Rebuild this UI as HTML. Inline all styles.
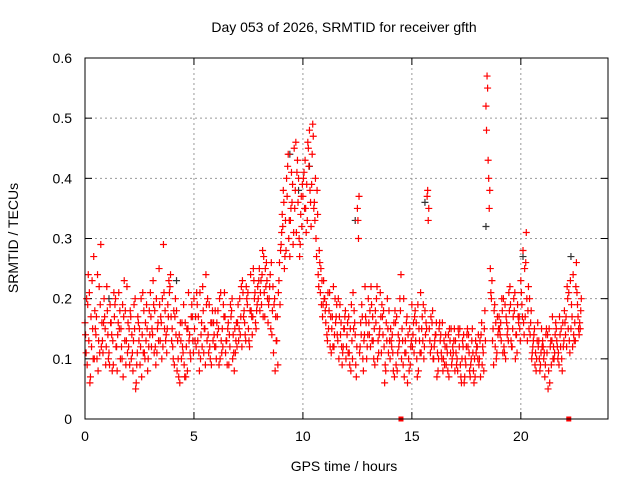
<!DOCTYPE html>
<html><head><meta charset="utf-8"><style>
body{margin:0;background:#fff}
svg{display:block;font-family:"Liberation Sans",sans-serif}
</style></head><body>
<svg id="chart" width="640" height="480" viewBox="0 0 640 480">
<rect width="640" height="480" fill="#fff"/>
<text x="344" y="32" font-size="14" text-anchor="middle">Day 053 of 2026, SRMTID for receiver gfth</text>
<text x="344" y="471" font-size="14" text-anchor="middle">GPS time / hours</text>
<text x="18" y="238" font-size="14" text-anchor="middle" transform="rotate(-90 18 238)">SRMTID / TECUs</text>
<g id="grid"></g>
<g id="ticks"></g>
<g id="marks"></g>
<rect x="85" y="58" width="523" height="361" fill="none" stroke="#000" stroke-width="1"/>
</svg>
<script>
const xTicks=[0,5,10,15,20];
const yTicks=[0,0.1,0.2,0.3,0.4,0.5,0.6];
const yTickLabels=["0","0.1","0.2","0.3","0.4","0.5","0.6"];
const seriesStarts=[0,0.05,0.025,0.075];
const step=0.1;
const seriesA=[.16,.09,.21,.12,.27,.14,.08,.19,.13,.17,
.22,.11,.16,.09,.20,.14,.18,.10,.23,.13,
.12,.17,.08,.20,.11,.15,.07,.18,.13,.10,
.21,.14,.18,.11,.25,.16,.29,.13,.19,.22,
.15,.09,.18,.07,.13,.11,.16,.08,.14,.19,
.20,.12,.17,.10,.22,.15,.13,.19,.09,.16,
.12,.18,.10,.15,.21,.13,.09,.17,.14,.11,
.16,.20,.12,.18,.22,.15,.24,.17,.21,.19,
.25,.19,.27,.22,.16,.24,.18,.20,.13,.23,
.29,.38,.33,.42,.27,.36,.45,.31,.40,.34,
.37,.43,.33,.48,.39,.35,.30,.24,.21,.17,
.20,.14,.18,.11,.22,.16,.13,.19,.09,.15,
.12,.17,.08,.21,.14,.35,.11,.19,.13,.16,
.20,.12,.17,.09,.22,.14,.11,.18,.08,.15,
.10,.14,.07,.17,.12,.24,.09,.13,.06,.15,
.19,.11,.16,.08,.21,.13,.18,.37,.15,.12,
.10,.14,.08,.13,.16,.09,.12,.07,.15,.11,
.13,.08,.15,.10,.06,.12,.14,.09,.11,.07,
.12,.10,.16,.08,.52,.43,.25,.13,.19,.11,
.17,.13,.20,.10,.15,.22,.12,.18,.14,.16,
.23,.28,.17,.13,.20,.10,.14,.08,.12,.09,
.13,.07,.11,.15,.09,.12,.16,.10,.14,.08,
.18,.12,.21,.15,.24,.13,.19,.16];
const seriesB=[.11,.24,.07,.15,.18,.10,.22,.12,.16,.09,
.14,.19,.08,.17,.12,.21,.15,.07,.18,.11,
.09,.14,.19,.06,.16,.12,.21,.10,.15,.18,
.12,.19,.09,.16,.13,.20,.15,.11,.23,.17,
.10,.20,.13,.06,.16,.09,.12,.21,.10,.13,
.13,.19,.08,.16,.11,.24,.14,.10,.18,.12,
.16,.09,.13,.19,.11,.15,.12,.20,.08,.16,
.13,.17,.21,.14,.19,.12,.17,.23,.15,.20,
.21,.28,.17,.23,.20,.26,.11,.17,.09,.19,
.34,.25,.40,.30,.35,.29,.38,.43,.27,.32,
.41,.31,.45,.36,.49,.33,.38,.28,.19,.23,
.16,.21,.12,.17,.14,.19,.10,.16,.12,.18,
.16,.09,.13,.18,.07,.30,.16,.10,.22,.12,
.14,.19,.10,.16,.13,.21,.17,.06,.13,.18,
.13,.08,.16,.11,.20,.15,.07,.16,.10,.12,
.14,.18,.07,.13,.15,.10,.16,.33,.11,.18,
.13,.07,.15,.11,.10,.14,.08,.13,.10,.15,
.09,.14,.07,.12,.10,.15,.08,.13,.06,.11,
.14,.07,.12,.18,.57,.35,.20,.09,.16,.14,
.14,.18,.11,.16,.21,.13,.17,.10,.19,.15,
.19,.14,.31,.22,.16,.12,.09,.13,.10,.15,
.10,.14,.05,.12,.17,.11,.13,.09,.15,.12,
.14,.20,.11,.17,.13,.26,.15,.18];
const seriesC=[.14,.19,.06,.23,.10,.17,.13,.29,.11,.15,
.18,.09,.14,.21,.12,.16,.10,.19,.13,.22,
.15,.10,.13,.05,.17,.09,.14,.11,.19,.12,
.17,.23,.12,.15,.19,.10,.21,.14,.17,.24,
.12,.17,.08,.14,.10,.19,.07,.15,.11,.17,
.15,.21,.11,.14,.18,.09,.20,.12,.16,.14,
.10,.15,.21,.12,.17,.09,.14,.18,.11,.13,
.19,.14,.23,.16,.20,.13,.18,.25,.16,.22,
.18,.24,.21,.26,.19,.15,.22,.08,.17,.26,
.31,.36,.28,.44,.33,.39,.35,.41,.30,.37,
.40,.35,.46,.38,.44,.36,.27,.22,.25,.19,
.18,.13,.21,.15,.12,.17,.20,.14,.11,.17,
.14,.11,.19,.15,.09,.33,.12,.17,.14,.10,
.16,.22,.13,.18,.10,.15,.19,.12,.16,.11,
.15,.11,.18,.08,.13,.10,.20,.11,.14,.09,
.12,.17,.10,.15,.11,.19,.14,.38,.13,.16,
.12,.16,.10,.14,.08,.12,.11,.15,.09,.13,
.11,.15,.09,.13,.07,.14,.11,.10,.08,.13,
.10,.13,.09,.15,.48,.40,.21,.15,.12,.17,
.15,.20,.12,.17,.13,.19,.15,.21,.11,.17,
.21,.16,.26,.18,.14,.11,.15,.10,.13,.11,
.12,.09,.14,.06,.13,.10,.15,.11,.12,.16,
.16,.22,.13,.19,.14,.22,.17,.15];
const seriesD=[.20,.13,.17,.10,.15,.24,.11,.16,.20,.12,
.10,.16,.13,.19,.08,.15,.12,.17,.09,.16,
.18,.11,.15,.09,.13,.20,.11,.16,.08,.14,
.15,.11,.20,.13,.17,.12,.18,.15,.21,.13,
.18,.14,.10,.16,.12,.07,.15,.13,.17,.11,
.17,.13,.21,.12,.15,.19,.11,.16,.13,.18,
.14,.20,.11,.17,.13,.16,.19,.10,.15,.12,
.15,.22,.17,.13,.21,.18,.14,.20,.18,.23,
.23,.17,.25,.20,.22,.14,.19,.13,.21,.28,
.32,.27,.37,.33,.41,.31,.46,.36,.29,.39,
.35,.39,.42,.32,.47,.40,.34,.26,.23,.20,
.19,.15,.17,.12,.20,.14,.17,.12,.15,.10,
.11,.15,.10,.16,.12,.37,.14,.08,.17,.14,
.18,.13,.15,.20,.11,.17,.14,.09,.20,.13,
.12,.16,.09,.14,.18,.13,.11,.17,.08,.13,
.16,.13,.19,.11,.17,.12,.15,.35,.17,.10,
.14,.11,.16,.10,.13,.09,.14,.11,.12,.08,
.10,.12,.06,.14,.09,.12,.07,.15,.10,.12,
.09,.14,.11,.13,.55,.38,.23,.18,.10,.15,
.16,.11,.19,.14,.18,.12,.20,.14,.17,.13,
.17,.25,.20,.15,.18,.13,.11,.16,.08,.12,
.11,.15,.08,.13,.10,.14,.12,.17,.10,.13,
.17,.15,.23,.12,.16,.21,.14,.20];
const blackTimes=[9.4,9.8,10.3,12.4,15.6,18.4,20.1,22.3,4.2,1.1];
const blackValues=[.44,.38,.42,.33,.36,.32,.27,.27,.23,.20];
const zeroTimes=[14.5,22.2];
const zeroValues=[0,0];

const X=t=>85+t*(523/24);
const Y=v=>419-v*(361/0.6);
const NS="http://www.w3.org/2000/svg";
const grid=document.getElementById('grid'),ticks=document.getElementById('ticks'),marks=document.getElementById('marks');
function ln(p,x1,y1,x2,y2,st,extra){const l=document.createElementNS(NS,'line');l.setAttribute('x1',x1);l.setAttribute('y1',y1);l.setAttribute('x2',x2);l.setAttribute('y2',y2);l.setAttribute('stroke',st);if(extra)l.setAttribute('stroke-dasharray',extra);p.appendChild(l);return l;}
function tx(p,x,y,s,a){const t=document.createElementNS(NS,'text');t.setAttribute('x',x);t.setAttribute('y',y);t.setAttribute('font-size','14');t.setAttribute('text-anchor',a);t.textContent=s;p.appendChild(t);return t;}
xTicks.forEach(v=>{const x=X(v);
 if(v>0){const g=ln(grid,x,58,x,419,'#999','2,3');
 
 }
 ln(ticks,x,419,x,412,'#000');ln(ticks,x,58,x,65,'#000');
 const t=tx(ticks,x,441,String(v),'middle');
 
 });
yTicks.forEach((v,i)=>{const y=Y(v);
 if(v>0&&v<0.6){const g=ln(grid,85,y,608,y,'#999','2,3');
 
 }
 ln(ticks,85,y,92,y,'#000');ln(ticks,608,y,601,y,'#000');
 const t=tx(ticks,72,y+5,yTickLabels[i],'end');
 
 });
function plus(t,v,c){const x=X(t),y=Y(v);const g=document.createElementNS(NS,'path');
 g.setAttribute('d',`M${x-3.5} ${y}H${x+3.5}M${x} ${y-3.5}V${y+3.5}`);g.setAttribute('stroke',c);g.setAttribute('stroke-width','1.2');
 
 
 marks.appendChild(g);}
blackTimes.forEach((t,i)=>plus(t,blackValues[i],'#333'));
[seriesA,seriesB,seriesC,seriesD].forEach((s,k)=>s.forEach((v,i)=>plus(seriesStarts[k]+i*step,v,'#ff0000')));
zeroTimes.forEach((t,i)=>{const r=document.createElementNS(NS,'rect');r.setAttribute('x',X(t)-2.5);r.setAttribute('y',Y(zeroValues[i])-2.5);r.setAttribute('width',5);r.setAttribute('height',5);r.setAttribute('fill','#ff0000');
 
 
 marks.appendChild(r);});
</script>
</body></html>
